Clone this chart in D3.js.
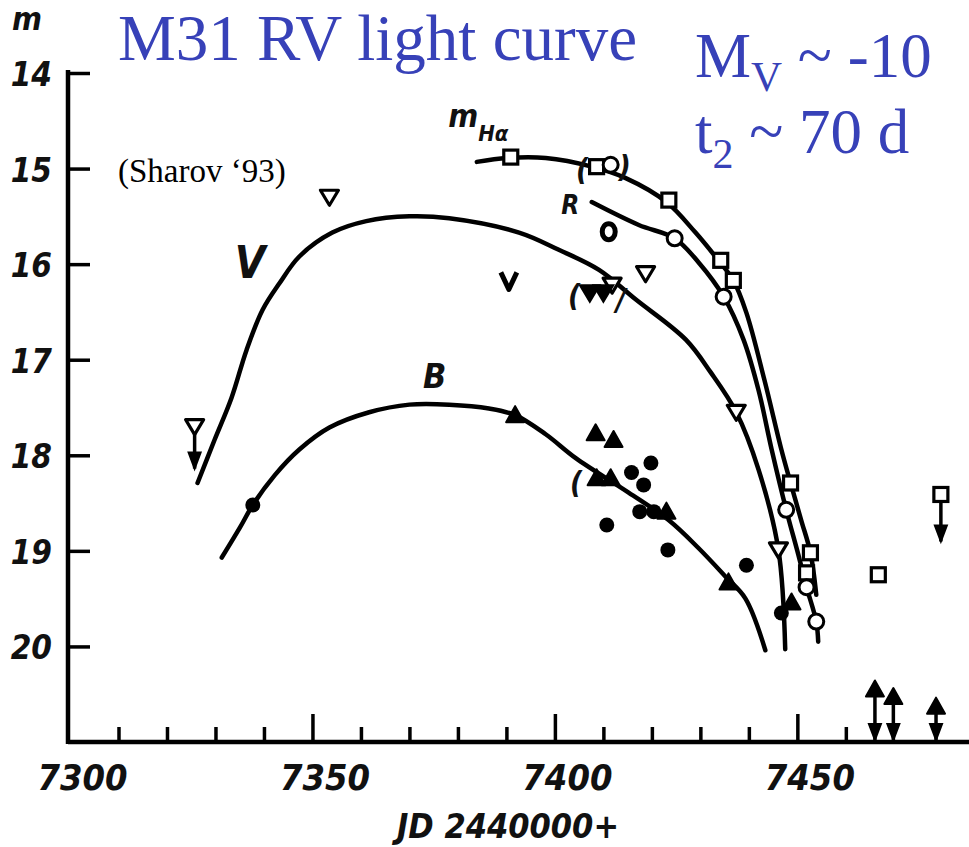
<!DOCTYPE html>
<html>
<head>
<meta charset="utf-8">
<script src="https://cdn.jsdelivr.net/npm/d3@7/dist/d3.min.js"></script>
<style>
  html, body { margin: 0; padding: 0; background: #fff; }
  svg { display: block; }
  .hand { font-family: "DejaVu Sans Condensed", "DejaVu Sans", sans-serif; font-weight: bold; font-style: italic; font-stretch: condensed; fill: #111; }
  .serif { font-family: "Liberation Serif", "Times New Roman", serif; }
</style>
</head>
<body>
<svg id="chart" width="969" height="847"></svg>
<script>
// Axis ticks
const xTickValues = [7300, 7310, 7320, 7330, 7340, 7350, 7360, 7370, 7380, 7390, 7400, 7410, 7420, 7430, 7440, 7450, 7460];
const xMajorTicks = [7300, 7350, 7400, 7450];
const yTickValues = [14, 15, 16, 17, 18, 19, 20];

// Smooth light curves (JD - 2440000, magnitude)
const curveV = [[7326.3,18.29],[7329.8,17.84],[7333.3,17.40],[7336.4,16.90],[7339.7,16.48],[7343.2,16.20],[7347.3,15.92],[7354.1,15.67],[7361.1,15.55],[7370.0,15.50],[7378.2,15.52],[7392.6,15.67],[7400.8,15.85],[7409.1,16.06],[7416.7,16.37],[7427.0,16.79],[7432.1,17.13],[7437.4,17.55],[7442.0,18.15],[7446.1,18.99],[7447.5,20.03]];
const curveB = [[7331.3,19.07],[7335.0,18.76],[7337.7,18.52],[7342.2,18.21],[7347.3,17.94],[7353.5,17.71],[7361.7,17.55],[7370.0,17.47],[7378.2,17.47],[7386.4,17.51],[7391.8,17.58],[7398.1,17.78],[7404.3,18.03],[7415.2,18.39],[7423.5,18.68],[7429.6,18.97],[7435.2,19.27],[7439.3,19.50],[7443.4,20.04]];
const curveHa = [[7383.9,14.93],[7390.1,14.89],[7398.1,14.89],[7407.6,14.98],[7414.6,15.10],[7423.0,15.35],[7429.0,15.67],[7433.7,15.96],[7436.8,16.17],[7439.5,16.51],[7443.2,17.21],[7446.7,17.94],[7448.6,18.29],[7450.8,18.68],[7452.7,19.02],[7453.9,19.46]];
const curveR = [[7407.6,15.35],[7417.3,15.59],[7424.7,15.73],[7429.6,15.98],[7434.8,16.34],[7438.9,16.79],[7442.0,17.32],[7444.7,17.94],[7447.7,18.57],[7450.2,19.04],[7451.9,19.38],[7453.9,19.74],[7454.3,19.95]];

// H-alpha (open squares)
const haSquares = [[7390.9,14.88],[7408.6,14.98],[7423.5,15.33],[7434.2,15.96],[7436.8,16.17],[7448.6,18.29],[7452.7,19.02],[7451.9,19.23],[7466.7,19.25]];
const haLimits = [[7479.6,18.41]];
// R (open circles)
const rCircles = [[7411.5,14.96],[7424.7,15.73],[7434.8,16.34],[7447.7,18.57],[7451.9,19.38],[7453.9,19.74]];
const rBold = [[7411.1,15.66]];
// V (open downward triangles)
const vTriangles = [[7353.5,15.30],[7418.7,16.10],[7411.8,16.22],[7437.4,17.55],[7446.1,18.99]];
const vFilled = [[7407.2,16.30],[7410.0,16.30]];
const vChevron = [[7390.5,16.17]];
const vLimits = [[7325.7,17.70]];
// B (filled triangles and dots)
const bTriangles = [[7391.8,17.58],[7408.4,17.77],[7412.1,17.84],[7408.6,18.24],[7411.5,18.24],[7423.0,18.59],[7435.8,19.33],[7448.8,19.54]];
const bDots = [[7337.7,18.52],[7415.8,18.18],[7419.8,18.08],[7418.3,18.31],[7410.7,18.73],[7417.5,18.59],[7420.4,18.59],[7423.3,18.99],[7439.5,19.15],[7446.7,19.65]];
const bLimits = [[7466.0,20.45],[7469.8,20.53],[7478.6,20.63]];

// Parentheses marking uncertain estimates
const parens = [
  {d: 7405.6, m: 15.0, ch: "("}, {d: 7414.4, m: 14.97, ch: ")"},
  {d: 7404.0, m: 16.32, ch: "("}, {d: 7413.6, m: 16.36, ch: "/"},
  {d: 7404.4, m: 18.28, ch: "("}
];

const svg = d3.select("#chart");
svg.append("rect").attr("width", 969).attr("height", 847).attr("fill", "#fff");

const x = d3.scaleLinear().domain([7300, 7485.4]).range([70, 969]);
const y = d3.scaleLinear().domain([14, 21]).range([73, 742]);

// ---- axes ----
const xAxis = d3.axisBottom(x)
  .tickValues(xTickValues)
  .tickSizeInner(-15)
  .tickSizeOuter(0)
  .tickFormat(d => xMajorTicks.includes(d) ? String(d) : "");
const gx = svg.append("g").attr("transform", `translate(0,${y(21)})`).call(xAxis);
gx.select(".domain").attr("d", `M68,0H969`).attr("stroke", "#000").attr("stroke-width", 4.5);
gx.selectAll(".tick line")
  .attr("stroke", "#000").attr("stroke-width", 3.5)
  .attr("y2", d => d === 7300 ? 0 : (xMajorTicks.includes(d) ? -28 : -15));
gx.selectAll(".tick text")
  .attr("class", "hand")
  .attr("font-size", 36)
  .attr("dy", 0)
  .attr("y", 48)
  .attr("dx", 12)
  .attr("text-anchor", "middle");

const yAxis = d3.axisLeft(y)
  .tickValues(yTickValues)
  .tickSizeInner(-22)
  .tickSizeOuter(0)
  .tickPadding(14)
  .tickFormat(d3.format("d"));
const gy = svg.append("g").attr("transform", "translate(68,0)").call(yAxis);
gy.select(".domain").attr("d", `M0,${y(14) - 3}V${y(21) + 2}`).attr("stroke", "#000").attr("stroke-width", 4.5);
gy.selectAll(".tick line").attr("stroke", "#000").attr("stroke-width", 3.5);
gy.selectAll(".tick text")
  .attr("class", "hand")
  .attr("font-size", 33)
  .attr("dy", "0.38em")
  .attr("x", -16);

svg.append("text").attr("class", "hand").attr("x", 12).attr("y", 30)
  .attr("font-size", 32).text("m");

svg.append("text").attr("class", "hand").attr("x", 508).attr("y", 838)
  .attr("font-size", 34).attr("text-anchor", "middle").text("JD 2440000+");

// ---- curves ----
const line = d3.line().x(d => x(d[0])).y(d => y(d[1])).curve(d3.curveCatmullRom.alpha(0.5));
[curveV, curveB, curveHa, curveR].forEach(c => {
  svg.append("path").attr("d", line(c))
    .attr("fill", "none").attr("stroke", "#000")
    .attr("stroke-width", 4.5).attr("stroke-linecap", "round").attr("stroke-linejoin", "round");
});

// ---- markers ----
const g = svg.append("g");
const downTri = "M-9,-7L9,-7L0,8Z";
const upTri = "M0,-9L9,7L-9,7Z";

function limitArrow(px, py, len) {
  g.append("line").attr("x1", px).attr("x2", px).attr("y1", py).attr("y2", py + len)
    .attr("stroke", "#000").attr("stroke-width", 3.5);
  g.append("path").attr("d", `M${px - 6},${py + len - 16}L${px + 6},${py + len - 16}L${px},${py + len}Z`)
    .attr("fill", "#000").attr("stroke", "#000").attr("stroke-width", 2);
}

haLimits.forEach(d => limitArrow(x(d[0]), y(d[1]) + 7, 40));
vLimits.forEach(d => limitArrow(x(d[0]), y(d[1]) + 6, 36));
bLimits.forEach(d => limitArrow(x(d[0]), y(d[1]) + 6, y(21) - y(d[1]) - 8));

g.selectAll(null).data(haSquares.concat(haLimits)).join("rect")
  .attr("x", d => x(d[0]) - 7).attr("y", d => y(d[1]) - 7)
  .attr("width", 14).attr("height", 14)
  .attr("fill", "#fff").attr("stroke", "#000").attr("stroke-width", 3.2);

g.selectAll(null).data(rCircles).join("circle")
  .attr("cx", d => x(d[0])).attr("cy", d => y(d[1])).attr("r", 7.5)
  .attr("fill", "#fff").attr("stroke", "#000").attr("stroke-width", 3);

g.selectAll(null).data(rBold).join("ellipse")
  .attr("cx", d => x(d[0])).attr("cy", d => y(d[1])).attr("rx", 6.5).attr("ry", 8)
  .attr("fill", "#fff").attr("stroke", "#000").attr("stroke-width", 5);

g.selectAll(null).data(vTriangles.concat(vLimits)).join("path")
  .attr("transform", d => `translate(${x(d[0])},${y(d[1])})`).attr("d", downTri)
  .attr("fill", "#fff").attr("stroke", "#000").attr("stroke-width", 3.2).attr("stroke-linejoin", "round");

g.selectAll(null).data(vFilled).join("path")
  .attr("transform", d => `translate(${x(d[0])},${y(d[1])})`).attr("d", downTri)
  .attr("fill", "#000").attr("stroke", "#000").attr("stroke-width", 3);

g.selectAll(null).data(vChevron).join("path")
  .attr("transform", d => `translate(${x(d[0])},${y(d[1])})`)
  .attr("d", "M-8,-8L0,9L8,-8")
  .attr("fill", "none").attr("stroke", "#000").attr("stroke-width", 5).attr("stroke-linejoin", "round");

g.selectAll(null).data(bTriangles.concat(bLimits)).join("path")
  .attr("transform", d => `translate(${x(d[0])},${y(d[1])})`).attr("d", upTri)
  .attr("fill", "#000").attr("stroke", "#000").attr("stroke-width", 2).attr("stroke-linejoin", "round");

g.selectAll(null).data(bDots).join("circle")
  .attr("cx", d => x(d[0])).attr("cy", d => y(d[1])).attr("r", 7.5)
  .attr("fill", "#000");

g.selectAll(null).data(parens).join("text")
  .attr("class", "hand").attr("font-size", 30).attr("text-anchor", "middle")
  .attr("x", d => x(d.d)).attr("y", d => y(d.m) + 11).text(d => d.ch);

// ---- curve labels ----
function handLabel(txt, px, py, size) {
  return svg.append("text").attr("class", "hand").attr("x", px).attr("y", py)
    .attr("font-size", size).text(txt);
}
handLabel("V", x(7334.0), y(16.14), 44);
handLabel("B", x(7372.8), y(17.30), 34);
handLabel("R", x(7401.3), y(15.48), 26);
const mh = svg.append("text").attr("class", "hand").attr("x", x(7378)).attr("y", y(14.56)).attr("font-size", 32);
mh.append("tspan").text("m");
mh.append("tspan").attr("font-size", 22).attr("dy", 14).text("Hα");

// ---- annotations ----
const blue = "#3741b8";
svg.append("text").attr("class", "serif").attr("x", 118).attr("y", 60)
  .attr("font-size", 65).attr("fill", blue).text("M31 RV light curve");

const mv = svg.append("text").attr("class", "serif").attr("x", 695).attr("y", 77)
  .attr("font-size", 63).attr("fill", blue);
mv.append("tspan").text("M");
mv.append("tspan").attr("font-size", 43).attr("dy", 14).text("V");
mv.append("tspan").attr("dy", -14).text(" ~ -10");

const t2 = svg.append("text").attr("class", "serif").attr("x", 695).attr("y", 153)
  .attr("font-size", 63).attr("fill", blue);
t2.append("tspan").text("t");
t2.append("tspan").attr("font-size", 42).attr("dy", 15).text("2");
t2.append("tspan").attr("dy", -15).text(" ~ 70 d");

svg.append("text").attr("class", "serif").attr("x", 118).attr("y", 182)
  .attr("font-size", 33).attr("fill", "#000").text("(Sharov ‘93)");
</script>
</body>
</html>
